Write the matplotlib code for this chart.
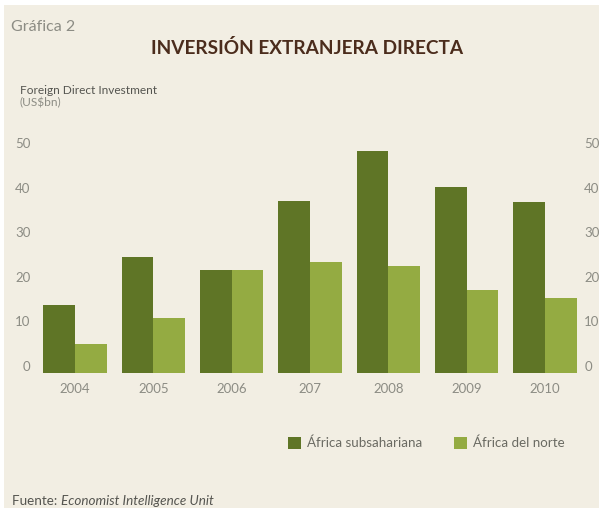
import matplotlib.pyplot as plt
import numpy as np
from matplotlib.patches import Rectangle

years = ['2004', '2005', '2006', '207', '2008', '2009', '2010']
subsahariana = [15.3, 26.0, 23.0, 38.6, 49.8, 41.8, 38.3]
norte = [6.5, 12.4, 23.0, 24.8, 23.9, 18.5, 16.8]
yticks = [0, 10, 20, 30, 40, 50]

bg = '#f2eee3'
dark = '#5f7526'
light = '#94ab42'
grey = '#8c8c84'
plt.rcParams['font.family'] = ['Lato', 'DejaVu Sans']

fig = plt.figure(figsize=(5.99, 5.08), dpi=100, facecolor='white')
fig.patches.append(Rectangle((4 / 599, 0), 1, (508 - 5) / 508, transform=fig.transFigure,
                             facecolor=bg, edgecolor='none', zorder=-10))

W, H = 599, 508
ax = fig.add_axes([40 / W, (H - 373) / H, 540 / W, 223 / H])
ax.set_facecolor(bg)
x = np.arange(len(years))
w = 0.405
ax.bar(x - w / 2, subsahariana, w, color=dark, label='África subsahariana')
ax.bar(x + w / 2, norte, w, color=light, label='África del norte')
ax.set_xlim(-0.447, 6.447)
ax.set_ylim(0, 50)
ax.set_xticks(x)
ax.set_xticklabels(years)
ax.set_yticks(yticks)
for s in ax.spines.values():
    s.set_visible(False)
ax.tick_params(axis='x', length=0, pad=7, labelsize=9.5, labelcolor=grey)
ax.tick_params(axis='y', length=0, pad=7, labelsize=9.5, labelcolor=grey)
for t in ax.get_yticklabels():
    t.set_va('bottom')

ax2 = ax.twinx()
ax2.set_ylim(0, 50)
ax2.set_yticks(yticks)
for s in ax2.spines.values():
    s.set_visible(False)
ax2.tick_params(axis='y', length=0, pad=3, labelsize=9.5, labelcolor=grey)
for t in ax2.get_yticklabels():
    t.set_va('bottom')

fig.text(11 / W, 1 - 27 / H, 'Gráfica 2', fontsize=11.5, color=grey, va='center')
fig.text(307 / W, 1 - 48 / H, 'INVERSIÓN EXTRANJERA DIRECTA', fontsize=13.7,
         fontweight='bold', color='#4b2c1c', ha='center', va='center')
fig.text(20 / W, 1 - 90 / H, 'Foreign Direct Investment', fontsize=8.6, color='#555550', va='center')
fig.text(20 / W, 1 - 103 / H, '(US$bn)', fontsize=8.6, color=grey, va='center')

fig.legend(loc='center left', bbox_to_anchor=(288 / W, 1 - 443 / H), ncol=2, frameon=False,
           fontsize=9.6, handlelength=1.0, handleheight=1.0, columnspacing=2.4,
           handletextpad=0.4, borderpad=0, borderaxespad=0, labelcolor='#6a6a62')

t1 = fig.text(12 / W, 1 - 501 / H, 'Fuente: ', fontsize=9.7, color='#555550', va='center')
ax.annotate('Economist Intelligence Unit', xy=(1, 0.5), xycoords=t1, fontsize=9.7,
            style='italic', color='#555550', va='center', annotation_clip=False)

fig.savefig('out.png', dpi=100, facecolor=fig.get_facecolor())
